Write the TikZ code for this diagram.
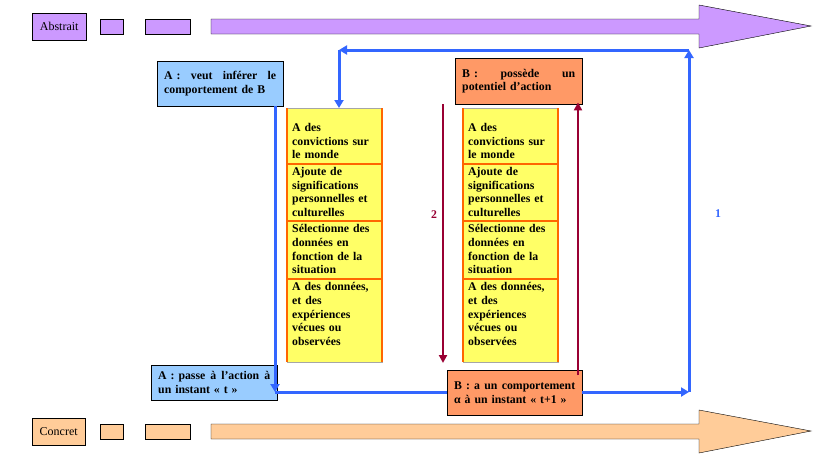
\documentclass[tikz,border=0pt]{standalone}
\usepackage{fontspec}
\setmainfont{Liberation Serif}
\usetikzlibrary{arrows.meta}
\definecolor{BleuClair}{HTML}{99CCFF}
\definecolor{Orange}{HTML}{FF9966}
\definecolor{Jaune}{HTML}{FFFF66}
\definecolor{Bord}{HTML}{FF6600}
\definecolor{Mauve}{HTML}{CC99FF}
\definecolor{Peche}{HTML}{FFCC99}
\definecolor{Bleu}{HTML}{3366FF}
\definecolor{Rouge}{HTML}{990033}
\newcommand{\Police}{\fontsize{11.8}{13.8}\selectfont\bfseries}
\newcommand{\Ligne}[2]{\hbox to #1{#2}}

\begin{document}
\begin{tikzpicture}[x=1pt, y=-1pt,
		boite/.style={draw=black, anchor=north west, inner xsep=7pt, inner ysep=0pt,
			align=left, font=\Police},
		etiquette/.style={draw=black, anchor=north west, inner sep=0pt, font=\fontsize{12}{14}\selectfont},
		colonne/.style={draw=gray!70, fill=Jaune, anchor=north west, inner sep=0pt,
			minimum width=95pt, minimum height=254pt},
		texte/.style={anchor=north west, inner sep=0pt, text width=90pt, align=left, font=\Police},
		bleu/.style={draw=Bleu, line width=3pt, -{Triangle[length=8pt,width=9pt]}},
		rouge/.style={draw=Rouge, line width=2.4pt, -{Triangle[length=8pt,width=8pt]}}]
	\useasboundingbox (0,0) rectangle (816,461);
	
	% bandes du haut et du bas
	\node[etiquette, fill=Mauve, minimum width=54pt, minimum height=27pt] (abstrait) at (32,13) {Abstrait};
	\node[etiquette, fill=Peche, minimum width=53pt, minimum height=27pt] (concret) at (32,418) {Concret};
	\foreach \yb/\coul in {19/Mauve, 424/Peche}{
		\draw[fill=\coul] (100,\yb) rectangle ++(23,15);
		\draw[fill=\coul] (145,\yb) rectangle ++(45,15);
		\draw[fill=\coul] (211,\yb) -- (699,\yb) -- (699,\yb-14) -- (811,\yb+7)
			-- (699,\yb+29) -- (699,\yb+15) -- (211,\yb+15) -- cycle;
	}
	
	% boites A et B
	\node[boite, fill=BleuClair, text width=112pt, minimum width=126pt, minimum height=45pt] (veut) at (157,61)
		{\Ligne{112pt}{A :\hfill veut\hfill inférer\hfill le}\\comportement de B};
	\node[boite, fill=Orange, text width=113pt, minimum width=127pt, minimum height=46pt] (possede) at (455,58)
		{\Ligne{113pt}{B :\hfill possède\hfill un}\\potentiel d’action};
	\node[boite, fill=BleuClair, text width=112pt, minimum width=126pt, minimum height=35pt] (passe) at (151,365)
		{\Ligne{112pt}{A : passe\hfill à\hfill l’action\hfill à}\\un instant « t »};
	\node[boite, fill=Orange, text width=121pt, minimum width=135pt, minimum height=45pt] (comporte) at (447,370)
		{\Ligne{121pt}{B :\hfill a\hfill un\hfill comportement}\\α à un instant « t+1 »};
	
	% colonnes jaunes
	\foreach \cx/\nom in {287/gauche, 463/droite}{
		\node[colonne] (\nom) at (\cx,108) {};
		\draw[Bord, line width=2pt] (\nom.north west) -- (\nom.south west);
		\draw[Bord, line width=2pt] (\nom.north east) -- (\nom.south east);
		\foreach \yd in {164,221,279}
			\draw[Bord, line width=2pt] (\cx,\yd) -- (\cx+95,\yd);
		\node[texte] (\nom-1) at (\cx+5,123) {A des\\convictions sur\\le monde};
		\node[texte] (\nom-2) at (\cx+5,167) {Ajoute de\\significations\\personnelles et\\culturelles};
		\node[texte] (\nom-3) at (\cx+5,224) {Sélectionne des\\données en\\fonction de la\\situation};
		\node[texte] (\nom-4) at (\cx+5,282) {A des données,\\et des\\expériences\\vécues ou\\observées};
	}
	
	% boucle bleue
	\coordinate (hautA) at (275,106);
	\coordinate (basA) at (275,392);
	\coordinate (coinBD) at (689,392);
	\coordinate (coinHD) at (689,50);
	\coordinate (coinHG) at (339,50);
	\draw[bleu] (hautA) -- (basA);
	\draw[draw=Bleu, line width=3pt] (basA) -- (comporte.west |- basA);
	\draw[bleu] (comporte.east |- coinBD) -- (coinBD);
	\draw[bleu] (coinBD) -- (coinHD);
	\draw[bleu] (coinHD) -- (coinHG);
	\draw[bleu] (coinHG) -- (coinHG |- gauche.north);
	\node[text=Bleu, font=\Police] (un) at (718,214) {1};
	
	% fleches rouges
	\coordinate (haut2) at (443,104);
	\coordinate (bas2) at (443,363);
	\draw[rouge] (haut2) -- (bas2);
	\draw[rouge] ([yshift=-5pt]comporte.north -| 578,0) -- ([yshift=2pt]possede.south -| 578,0);
	\node[text=Rouge, font=\Police] (deux) at (434,215) {2};
\end{tikzpicture}
\end{document}
